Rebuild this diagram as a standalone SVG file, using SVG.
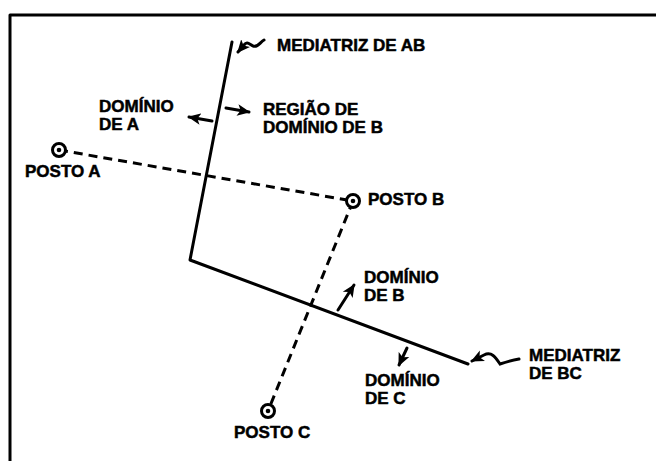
<svg xmlns="http://www.w3.org/2000/svg" width="656" height="461" viewBox="0 0 656 461">
<style>
  .lbl { font-family: "Liberation Sans", Arial, sans-serif; font-weight: bold; font-size: 17px; letter-spacing: 0px; fill: #000; stroke: #000; stroke-width: 0.5px; }
  .solid { fill: none; stroke: #000; stroke-width: 3; stroke-linejoin: round; stroke-linecap: round; }
  .dash { fill: none; stroke: #000; stroke-width: 3; stroke-dasharray: 9 6; }
  .lead { fill: none; stroke: #000; stroke-width: 3; stroke-linecap: round; }
  .post { fill: #fff; stroke: #000; stroke-width: 3; }
  .dot { fill: #000; }
</style>
<defs>
  <marker id="ah" markerUnits="userSpaceOnUse" markerWidth="13" markerHeight="13" viewBox="0 0 10 10" refX="9" refY="5" orient="auto">
    <path d="M0,0.5 L10,5 L0,9.5 L2.5,5 z" fill="#000"/>
  </marker>
</defs>
<rect width="656" height="461" fill="#fff"/>
<g id="frame">
  <path class="solid" d="M10,461 L10,15 L656,15" stroke-linecap="butt"/>
</g>
<g id="connectors">
  <path class="dash" d="M59,150 L353,201"/>
  <path class="dash" d="M353,201 L268,411"/>
  <path class="solid" d="M232,42 L190,260 L468,364"/>
  <path class="lead" d="M264,40 C260,42 258,48 253,46 C249,44 247,41 244,45 L238,52" marker-end="url(#ah)"/>
  <path class="lead" d="M519,359 C512,360 506,362 500,364 C496,358 492,351 484,355 L472,361" marker-end="url(#ah)"/>
  <path class="lead" d="M212,121 L189,117" marker-end="url(#ah)"/>
  <path class="lead" d="M226,108 L249,112" marker-end="url(#ah)"/>
  <path class="lead" d="M338,310 L354,285" marker-end="url(#ah)"/>
  <path class="lead" d="M407,348 L399,365" marker-end="url(#ah)"/>
</g>
<g id="posto-a">
  <circle class="post" cx="59" cy="150" r="6.5"/>
  <circle class="dot" cx="59" cy="150" r="2.3"/>
  <text class="lbl" x="25" y="177">POSTO A</text>
</g>
<g id="posto-b">
  <circle class="post" cx="353" cy="201" r="6.5"/>
  <circle class="dot" cx="353" cy="201" r="2.3"/>
  <text class="lbl" x="368" y="205">POSTO B</text>
</g>
<g id="posto-c">
  <circle class="post" cx="268" cy="411" r="6.5"/>
  <circle class="dot" cx="268" cy="411" r="2.3"/>
  <text class="lbl" x="234" y="438">POSTO C</text>
</g>
<g id="mediatriz-ab">
  <text class="lbl" x="277" y="51">MEDIATRIZ DE AB</text>
</g>
<g id="mediatriz-bc">
  <text class="lbl" x="529" y="361">MEDIATRIZ</text>
  <text class="lbl" x="529" y="379">DE BC</text>
</g>
<g id="dominio-a">
  <text class="lbl" x="99" y="112">DOMÍNIO</text>
  <text class="lbl" x="99" y="130">DE A</text>
</g>
<g id="regiao-b">
  <text class="lbl" x="263" y="115">REGIÃO DE</text>
  <text class="lbl" x="263" y="133">DOMÍNIO DE B</text>
</g>
<g id="dominio-b">
  <text class="lbl" x="364" y="283">DOMÍNIO</text>
  <text class="lbl" x="364" y="301">DE B</text>
</g>
<g id="dominio-c">
  <text class="lbl" x="365" y="386">DOMÍNIO</text>
  <text class="lbl" x="365" y="404">DE C</text>
</g>
</svg>
